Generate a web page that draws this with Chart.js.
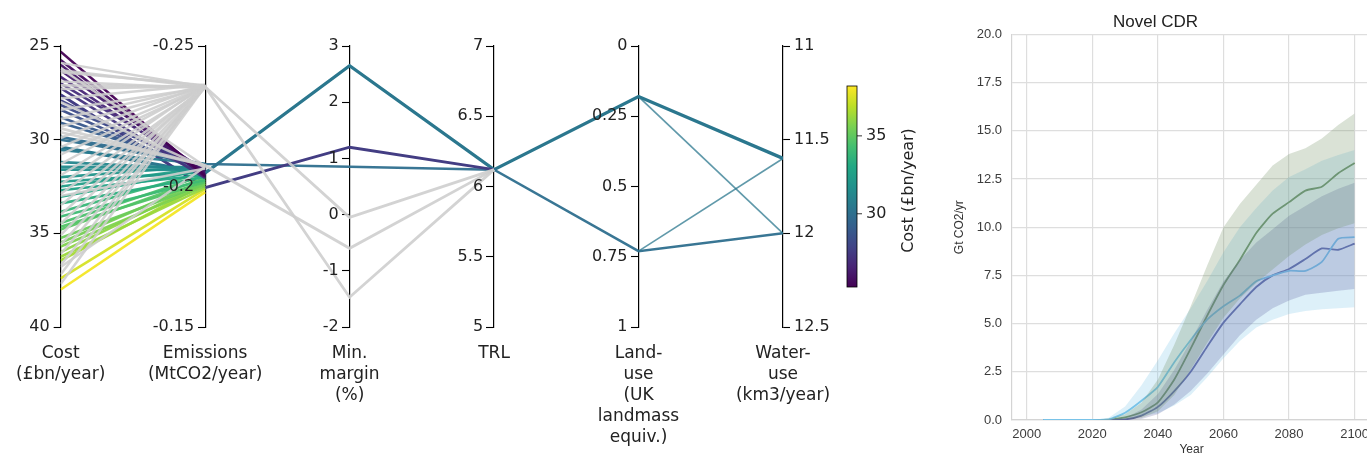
<!DOCTYPE html>
<html>
<head>
<meta charset="utf-8">
<script src="https://cdn.jsdelivr.net/npm/chart.js@4.4.1/dist/chart.umd.min.js"></script>
<style>
  body { margin: 0; background: #fff; overflow: hidden; width: 1367px; height: 457px; position: relative; }
  canvas { position: absolute; top: 0; }
  #pcp { left: 0; }
  #cdr { left: 940px; }
</style>
</head>
<body>
<canvas id="pcp" width="930" height="457"></canvas>
<canvas id="cdr" width="440" height="457"></canvas>
<script>
// ---------- parallel coordinates data ----------
const axisIds = ['cost', 'emis', 'margin', 'trl', 'land', 'water'];
const axisLabels = [
    ['Cost', '(£bn/year)'],
    ['Emissions', '(MtCO2/year)'],
    ['Min.', 'margin', '(%)'],
    ['TRL'],
    ['Land-', 'use', '(UK', 'landmass', 'equiv.)'],
    ['Water-', 'use', '(km3/year)']
];
const axisMin = [25, -0.25, -2, 5, 0, 11];
const axisMax = [40, -0.15, 3, 7, 1, 12.5];
const axisReverse = [true, true, false, false, true, true];
const axisStep = [5, 0.05, 1, 0.5, 0.25, 0.5];

// coloured lines that stop at the emissions axis
const bundleCost = [25.3, 25.75, 26.0, 26.3, 26.65, 27.0, 27.25, 27.9, 28.15, 28.4, 28.8, 29.1, 29.85,
    30.55, 31.2, 31.45, 31.6, 32.0, 32.25, 32.5, 32.7, 33.05, 33.4, 33.85, 34.1, 34.45, 34.65,
    34.8, 35.25, 35.5, 35.7, 36.0, 36.25, 36.45, 37.4, 38.0];
const bundleEmis = [-0.2037, -0.2044, -0.2034, -0.2052, -0.2041, -0.2059, -0.2030, -0.2052, -0.2066, -0.2044, -0.2059, -0.2073, -0.2077,
    -0.2080, -0.2062, -0.2069, -0.2059, -0.2073, -0.2052, -0.2066, -0.2041, -0.2059, -0.2034, -0.2052, -0.2023, -0.2041, -0.2016,
    -0.2030, -0.2009, -0.2023, -0.2002, -0.2016, -0.1995, -0.2009, -0.1991, -0.1980];

// grey (filtered out) lines
const greyCost = [25.9, 26.2, 26.4, 26.9, 27.3, 27.8, 28.0, 28.4, 28.9, 29.3, 29.6, 29.9, 30.4, 30.8, 31.3, 31.9,
    32.4, 32.9, 33.0, 33.5, 34.0, 34.5, 35.1, 35.6, 36.1, 36.7, 36.8, 37.2, 37.7];
const greyEmis = [-0.2355, -0.2072, -0.2360, -0.2350, -0.2357, -0.2362, -0.2068, -0.2352, -0.2358, -0.2354, -0.2075, -0.2361, -0.2356, -0.2353, -0.2359, -0.2355,
    -0.2362, -0.2351, -0.2064, -0.2357, -0.2354, -0.2360, -0.2356, -0.2352, -0.2358, -0.2355, -0.2070, -0.2361, -0.2356];

// lines that carry on past the emissions axis: cost, emissions, margin, TRL, land, water
const greyPathA = [26.3, -0.2355, -0.05, 6.12, null, null];
const greyPathB = [27.1, -0.2355, -1.47, 6.12, null, null];
const greyPathC = [29.4, -0.2075, -0.6, 6.12, null, null];
const purplePath = [27.6, -0.1996, 1.2, 6.12, null, null];
const tealFlatPath = [30.0, -0.2080, 0.85, 6.12, 0.73, 12.0];
const tealPeakPath = [30.4, -0.2048, 2.65, 6.12, 0.18, 11.6];
const tealCrossA = [null, null, null, null, 0.18, 12.0];
const tealCrossB = [null, null, null, null, 0.73, 11.6];

// colour bar
const cbMin = 25.3;
const cbMax = 38.2;
const cbTicks = [30, 35];
const viridis = ['#440154', '#482475', '#414487', '#355f8d', '#2a788e', '#21918c',
    '#22a884', '#44bf70', '#7ad151', '#bddf26', '#fde725'];

// ---------- Novel CDR data ----------
const years = [2005, 2010, 2015, 2020, 2025, 2030, 2035, 2040, 2045, 2050,
    2055, 2060, 2065, 2070, 2075, 2080, 2085, 2090, 2095, 2100];
const yearTicks = [2000, 2020, 2040, 2060, 2080, 2100];
const greenMean = [0, 0, 0, 0, 0.02, 0.14, 0.4, 0.92, 2.1, 3.7, 5.4, 7.0, 8.3, 9.7, 10.7, 11.3, 11.9, 12.1, 12.8, 13.33];
const purpleMean = [0, 0, 0, 0, 0, 0.03, 0.23, 0.68, 1.5, 2.5, 3.8, 5.05, 6.0, 6.9, 7.5, 7.83, 8.35, 8.9, 8.83, 9.15];
const blueMean = [0, 0, 0, 0, 0.03, 0.38, 1.0, 1.72, 3.0, 4.15, 5.2, 5.9, 6.45, 7.2, 7.5, 7.74, 7.74, 8.2, 9.4, 9.48];
const greenLow = [0, 0, 0, 0, 0, 0.02, 0.1, 0.45, 1.3, 2.6, 4.0, 5.3, 6.3, 7.1, 7.8, 8.5, 9.1, 9.6, 9.95, 10.2];
const greenHigh = [0, 0, 0, 0, 0.05, 0.3, 0.9, 2.1, 3.9, 5.9, 8.0, 10.0, 11.2, 12.2, 13.2, 13.8, 14.1, 14.6, 15.3, 15.9];
const purpleLow = [0, 0, 0, 0, 0, 0, 0.05, 0.3, 0.8, 1.5, 2.4, 3.4, 4.4, 5.2, 5.8, 6.2, 6.5, 6.6, 6.7, 6.8];
const purpleHigh = [0, 0, 0, 0, 0.02, 0.1, 0.55, 1.35, 2.6, 4.1, 5.7, 7.2, 8.3, 9.2, 9.9, 10.6, 11.1, 11.6, 12.0, 12.3];
const blueLow = [0, 0, 0, 0, 0, 0.05, 0.2, 0.35, 0.75, 1.3, 2.2, 3.2, 4.1, 4.8, 5.2, 5.5, 5.65, 5.75, 5.8, 5.85];
const blueHigh = [0, 0, 0, 0, 0.12, 0.7, 1.8, 3.1, 4.5, 5.8, 7.2, 8.7, 10.0, 11.0, 11.9, 12.6, 13.0, 13.45, 13.75, 14.0];

// ---------- helpers ----------
function hexToRgb(h) {
    return [parseInt(h.slice(1, 3), 16), parseInt(h.slice(3, 5), 16), parseInt(h.slice(5, 7), 16)];
}

function viridisAt(cost, alpha) {
    let t = (cost - cbMin) / (cbMax - cbMin);
    t = Math.max(0, Math.min(1, t)) * (viridis.length - 1);
    const i = Math.min(Math.floor(t), viridis.length - 2);
    const f = t - i;
    const a = hexToRgb(viridis[i]), b = hexToRgb(viridis[i + 1]);
    const c = a.map((v, k) => Math.round(v + (b[k] - v) * f));
    return `rgba(${c[0]},${c[1]},${c[2]},${alpha})`;
}

// map a value on axis i onto the shared 0..1 scale
function norm(i, v) {
    if (v === null) return null;
    const t = (v - axisMin[i]) / (axisMax[i] - axisMin[i]);
    return axisReverse[i] ? 1 - t : t;
}

function pathData(values) {
    return values.map((v, i) => ({ x: i, y: norm(i, v) }));
}

function pcpLine(values, color, width) {
    return {
        data: pathData(values),
        borderColor: color,
        borderWidth: width,
        pointRadius: 0,
        fill: false,
        tension: 0
    };
}

// ---------- parallel coordinates chart ----------
const GREY = 'rgba(206,206,206,0.9)';
const pcpSets = [];
greyCost.forEach((c, i) => pcpSets.push(pcpLine([c, greyEmis[i], null, null, null, null], GREY, 2.5)));
[greyPathA, greyPathB, greyPathC].forEach(p => pcpSets.push(pcpLine(p, GREY, 2.8)));
bundleCost.forEach((c, i) => pcpSets.push(pcpLine([c, bundleEmis[i], null, null, null, null], viridisAt(c, 0.95), 2.6)));
pcpSets.push(pcpLine(tealCrossA, viridisAt(tealPeakPath[0], 0.75), 1.7));
pcpSets.push(pcpLine(tealCrossB, viridisAt(tealPeakPath[0], 0.75), 1.7));
pcpSets.push(pcpLine(purplePath, viridisAt(purplePath[0], 1), 3));
pcpSets.push(pcpLine(tealFlatPath, viridisAt(tealFlatPath[0], 0.95), 2.5));
pcpSets.push(pcpLine(tealPeakPath, viridisAt(tealPeakPath[0], 1), 3.3));

const TICK_LEN = 7;
const TICK_PAD = 4;
const pcpFont = { family: 'DejaVu Sans', size: 16 };
const pcpScales = {
    x: {
        type: 'linear', min: 0, max: 5, position: 'bottom',
        grid: { display: false, drawTicks: false }, border: { display: false },
        ticks: {
            stepSize: 1, autoSkip: false, maxRotation: 0, padding: 16, color: '#222',
            font: { family: 'DejaVu Sans', size: 17, lineHeight: 21 / 17 },
            callback: (v, i) => axisLabels[i]
        },
        afterFit: s => { s.height = 130; }
    },
    y: { type: 'linear', min: 0, max: 1, display: false }
};
axisIds.forEach((id, i) => {
    const middle = i > 0 && i < 5;
    pcpScales[id] = {
        type: 'linear',
        axis: 'y',
        min: axisMin[i], max: axisMax[i], reverse: axisReverse[i],
        position: i === 0 ? 'left' : (i === 5 ? 'right' : { x: i }),
        z: 1,
        grid: { display: true, drawOnChartArea: false, drawTicks: true, tickLength: TICK_LEN, color: '#000', tickWidth: 1.1 },
        border: { display: true, color: '#000', width: 1.2 },
        ticks: {
            display: !middle,
            stepSize: axisStep[i], padding: TICK_PAD, color: '#222', font: pcpFont,
            callback: v => String(+v.toFixed(3))
        },
        afterFit: s => {
            if (i === 0) s.width = 58;
            if (i === 5) s.width = 147;
        }
    };
});

// tick labels for the axes that sit inside the plot area
const midAxisLabels = {
    id: 'midAxisLabels',
    afterDraw(chart) {
        const ctx = chart.ctx;
        ctx.save();
        ctx.font = '16px "DejaVu Sans"';
        ctx.fillStyle = '#222';
        ctx.textAlign = 'right';
        ctx.textBaseline = 'middle';
        axisIds.slice(1, 5).forEach((id, k) => {
            const scale = chart.scales[id];
            const x = chart.scales.x.getPixelForValue(k + 1) - TICK_LEN - TICK_PAD;
            scale.ticks.forEach(t => ctx.fillText(t.label, x, scale.getPixelForValue(t.value)));
        });
        ctx.restore();
    }
};

const colorbarPlugin = {
    id: 'colorbar',
    afterDraw(chart) {
        const ctx = chart.ctx;
        const x = 847, w = 10, top = 86, bottom = 287;
        const grad = ctx.createLinearGradient(0, bottom, 0, top);
        viridis.forEach((c, i) => grad.addColorStop(i / (viridis.length - 1), c));
        ctx.save();
        ctx.fillStyle = grad;
        ctx.fillRect(x, top, w, bottom - top);
        ctx.strokeStyle = '#000';
        ctx.lineWidth = 0.8;
        ctx.strokeRect(x, top, w, bottom - top);
        ctx.font = '16px "DejaVu Sans"';
        ctx.fillStyle = '#222';
        ctx.textAlign = 'left';
        ctx.textBaseline = 'middle';
        cbTicks.forEach(v => {
            const y = bottom - (v - cbMin) / (cbMax - cbMin) * (bottom - top);
            ctx.beginPath();
            ctx.moveTo(x + w, y);
            ctx.lineTo(x + w + 5, y);
            ctx.stroke();
            ctx.fillText(String(v), x + w + 9, y);
        });
        // colour bar title
        ctx.translate(909, (top + bottom) / 2 + 4);
        ctx.rotate(-Math.PI / 2);
        ctx.textAlign = 'center';
        ctx.fillText('Cost (£bn/year)', 0, 0);
        ctx.restore();
    }
};

new Chart(document.getElementById('pcp'), {
    type: 'line',
    data: { datasets: pcpSets },
    options: {
        responsive: false,
        animation: false,
        devicePixelRatio: 1,
        layout: { padding: { top: 46, left: 0, right: 0, bottom: 0 } },
        plugins: { legend: { display: false }, tooltip: { enabled: false } },
        scales: pcpScales
    },
    plugins: [midAxisLabels, colorbarPlugin]
});

// ---------- Novel CDR chart ----------
function series(values) {
    return years.map((yr, i) => ({ x: yr, y: values[i] }));
}

function band(low, high, color) {
    return [
        { data: series(low), borderWidth: 0, pointRadius: 0, fill: false },
        { data: series(high), borderWidth: 0, pointRadius: 0, fill: '-1', backgroundColor: color }
    ];
}

function meanLine(values, color) {
    return { data: series(values), borderColor: color, borderWidth: 1.8, pointRadius: 0, fill: false, tension: 0.2 };
}

const tickFont = { family: 'Liberation Sans', size: 13 };
new Chart(document.getElementById('cdr'), {
    type: 'line',
    data: {
        datasets: [
            ...band(greenLow, greenHigh, 'rgba(108,139,90,0.25)'),
            ...band(purpleLow, purpleHigh, 'rgba(92,95,158,0.25)'),
            ...band(blueLow, blueHigh, 'rgba(121,195,232,0.25)'),
            meanLine(blueMean, '#79c3e8'),
            meanLine(purpleMean, '#5c5f9e'),
            meanLine(greenMean, '#6c8b5a')
        ]
    },
    options: {
        responsive: false,
        animation: false,
        devicePixelRatio: 1,
        layout: { padding: { right: 9, top: 0, bottom: 0, left: 0 } },
        plugins: {
            legend: { display: false },
            tooltip: { enabled: false },
            title: {
                display: true, text: 'Novel CDR', color: '#222',
                font: { family: 'Liberation Sans', size: 17, weight: 'normal' },
                padding: { top: 12, bottom: 2 }
            }
        },
        scales: {
            x: {
                type: 'linear', min: 1995.5, max: 2105,
                afterBuildTicks: s => { s.ticks = yearTicks.map(v => ({ value: v })); },
                grid: { color: '#dedede', lineWidth: 1.2, drawTicks: false },
                border: { color: '#d4d4d4', width: 1.2 },
                ticks: { padding: 7, color: '#3c3c3c', font: tickFont, callback: v => String(v) },
                title: {
                    display: true, text: 'Year', color: '#333',
                    font: { family: 'Liberation Sans', size: 12 }, padding: { top: 0, bottom: 0 }
                },
                afterFit: s => { s.height = 37; }
            },
            y: {
                type: 'linear', min: 0, max: 20,
                grid: { color: '#dedede', lineWidth: 1.2, drawTicks: false },
                border: { color: '#d4d4d4', width: 1.2 },
                ticks: { stepSize: 2.5, padding: 10, color: '#3c3c3c', font: tickFont, callback: v => v.toFixed(1) },
                title: {
                    display: true, text: 'Gt CO2/yr', color: '#333',
                    font: { family: 'Liberation Sans', size: 12 }, padding: { top: 12, bottom: 0 }
                },
                afterFit: s => { s.width = 72; }
            }
        }
    }
});
</script>
</body>
</html>
